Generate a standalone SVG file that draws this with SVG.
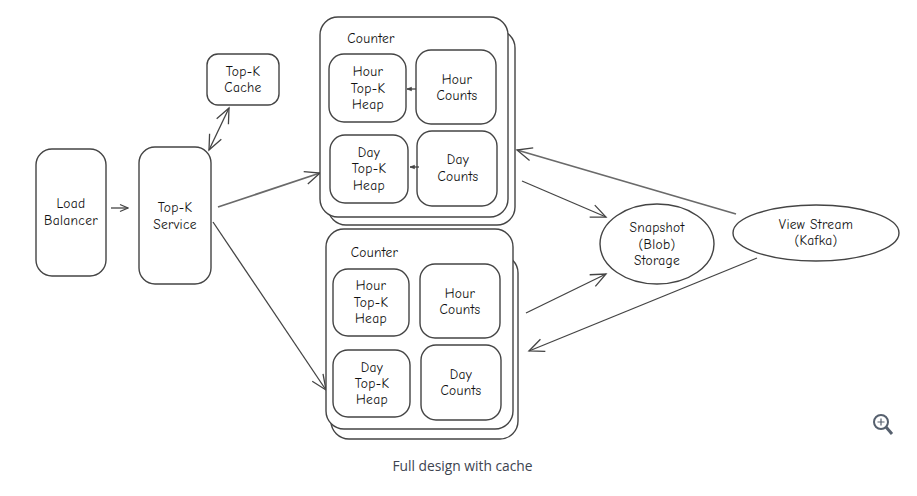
<svg xmlns="http://www.w3.org/2000/svg" width="917" height="496" viewBox="0 0 917 496">
<style>
.s{fill:#fff;stroke:#444;stroke-width:1.4}
.l{font-family:"Comic Neue","Lato","Noto Sans",sans-serif;font-size:13.500px;letter-spacing:.3px;fill:#111;text-anchor:middle}
.c{fill:none;stroke:#444;stroke-width:1.3}
.t{stroke:#6a6a6a;stroke-width:1.800}
.cap{font-family:"Open Sans",sans-serif;font-size:13.800px;fill:#3d4450;text-anchor:middle}
</style>
<defs>
<marker id="a" markerUnits="userSpaceOnUse" viewBox="0 0 20 20" refX="18" refY="10" markerWidth="20" markerHeight="20" orient="auto-start-reverse"><path d="M3 3.500L18 10L3 16.500" fill="none" stroke="#444" stroke-width="1.3"/></marker>
<marker id="m" markerUnits="userSpaceOnUse" viewBox="0 0 12 12" refX="11" refY="6" markerWidth="12" markerHeight="12" orient="auto"><path d="M3 2.500L11 6L3 9.500" fill="none" stroke="#444" stroke-width="1.3"/></marker>
<marker id="b" markerUnits="userSpaceOnUse" viewBox="0 0 6 6" refX="5.500" refY="3" markerWidth="6" markerHeight="6" orient="auto"><path d="M1 1.200L5.500 3L1 4.800Z" fill="#444" stroke="#444" stroke-width=".6"/></marker>
</defs>
<g id="connectors">
<path class="c" d="M111 208L128 208" marker-end="url(#m)"/>
<path class="c" d="M229 108L209 150" marker-start="url(#a)" marker-end="url(#a)"/>
<path class="c t" d="M218 207L320 173" marker-end="url(#a)"/>
<path class="c" d="M213 222L326 390" marker-end="url(#a)"/>
<path class="c" d="M522 181L606 217" marker-end="url(#a)"/>
<path class="c" d="M526 313L606 274" marker-end="url(#a)"/>
<path class="c t" d="M736 214L517 150" marker-end="url(#a)"/>
<path class="c" d="M757 258L529 351" marker-end="url(#a)"/>
</g>
<g id="load-balancer"><rect class="s" x="36" y="149" width="70" height="127" rx="16"/><text class="l" x="71" y="208">Load</text><text class="l" x="71" y="225">Balancer</text></g>
<g id="top-k-service"><rect class="s" x="139" y="147" width="72" height="137" rx="16"/><text class="l" x="175" y="212">Top-K</text><text class="l" x="175" y="229">Service</text></g>
<g id="top-k-cache"><rect class="s" x="207" y="54" width="72" height="51" rx="11"/><text class="l" x="243" y="76">Top-K</text><text class="l" x="243" y="92">Cache</text></g>
<g id="counter-1">
<rect class="s" x="328" y="30" width="187" height="195" rx="18"/>
<rect class="s" x="320" y="17" width="188" height="200" rx="18"/>
<text class="l" x="371" y="43">Counter</text>
</g>
<g id="hour-heap-1"><rect class="s" x="329" y="54" width="77" height="68" rx="15"/><text class="l" x="368" y="76">Hour</text><text class="l" x="368" y="93">Top-K</text><text class="l" x="368" y="109">Heap</text></g>
<g id="hour-counts-1"><rect class="s" x="416" y="50" width="80" height="74" rx="15"/><text class="l" x="457" y="84">Hour</text><text class="l" x="457" y="100">Counts</text></g>
<g id="day-heap-1"><rect class="s" x="330" y="135" width="78" height="68" rx="15"/><text class="l" x="369" y="157">Day</text><text class="l" x="369" y="173">Top-K</text><text class="l" x="369" y="190">Heap</text></g>
<g id="day-counts-1"><rect class="s" x="417" y="131" width="80" height="75" rx="15"/><text class="l" x="458" y="164">Day</text><text class="l" x="458" y="181">Counts</text></g>
<g id="counter-2">
<rect class="s" x="331" y="255" width="187" height="184" rx="18"/>
<rect class="s" x="326" y="229" width="187" height="200" rx="18"/>
<text class="l" x="374.500" y="257">Counter</text>
</g>
<g id="hour-heap-2"><rect class="s" x="333" y="269" width="76" height="67" rx="15"/><text class="l" x="371" y="290">Hour</text><text class="l" x="371" y="307">Top-K</text><text class="l" x="371" y="323">Heap</text></g>
<g id="hour-counts-2"><rect class="s" x="420" y="264" width="80" height="74" rx="15"/><text class="l" x="460" y="298">Hour</text><text class="l" x="460" y="314">Counts</text></g>
<g id="day-heap-2"><rect class="s" x="333" y="350" width="77" height="67" rx="15"/><text class="l" x="372" y="372">Day</text><text class="l" x="372" y="388">Top-K</text><text class="l" x="372" y="404">Heap</text></g>
<g id="day-counts-2"><rect class="s" x="421" y="345" width="80" height="75" rx="15"/><text class="l" x="461" y="379">Day</text><text class="l" x="461" y="395">Counts</text></g>
<g id="small-arrows">
<path class="c" d="M416 89L407 89" marker-end="url(#b)"/>
<path class="c" d="M419 167L410 167" marker-end="url(#b)"/>
</g>
<g id="snapshot"><ellipse class="s" cx="657" cy="244" rx="57" ry="40"/><text class="l" x="657" y="232">Snapshot</text><text class="l" x="657" y="249">(Blob)</text><text class="l" x="657" y="265">Storage</text></g>
<g id="view-stream"><ellipse class="s" cx="816" cy="233" rx="83" ry="28"/><text class="l" x="816" y="229">View Stream</text><text class="l" x="816" y="245">(Kafka)</text></g>
<text class="cap" x="462.500" y="471">Full design with cache</text>
<g id="zoom-icon" fill="none" stroke="#56606e"><circle cx="881" cy="422" r="7" stroke-width="2"/><path d="M886 427L892 434" stroke-width="3"/><path d="M881 418.500V425.500M877.500 422H884.500" stroke-width="1.200"/></g>
</svg>
